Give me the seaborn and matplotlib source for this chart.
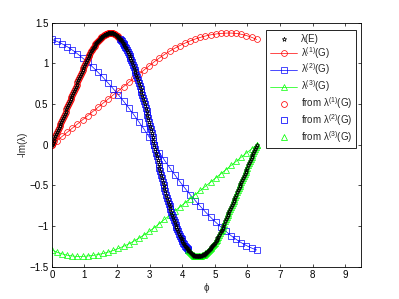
import numpy as np
import pandas as pd
import matplotlib
matplotlib.use('Agg')
import matplotlib.pyplot as plt
import seaborn as sns

# G-eigenvalues sampled on phi in [0, 2pi] (81 samples)
phi = np.linspace(0, 2 * np.pi, 81)

lam1 = [0.000, 0.026, 0.051, 0.077, 0.102, 0.128, 0.153, 0.179, 0.204, 0.230,
        0.255, 0.281, 0.306, 0.332, 0.357, 0.383, 0.408, 0.434, 0.460, 0.485,
        0.511, 0.536, 0.562, 0.587, 0.613, 0.638, 0.664, 0.689, 0.715, 0.740,
        0.766, 0.791, 0.817, 0.842, 0.868, 0.893, 0.919, 0.944, 0.970, 0.995,
        1.020, 1.043, 1.066, 1.088, 1.109, 1.130, 1.149, 1.168, 1.186, 1.203,
        1.219, 1.235, 1.249, 1.263, 1.276, 1.288, 1.300, 1.310, 1.320, 1.329,
        1.337, 1.344, 1.351, 1.356, 1.361, 1.365, 1.368, 1.371, 1.372, 1.373,
        1.373, 1.371, 1.368, 1.364, 1.358, 1.351, 1.342, 1.332, 1.321, 1.308,
        1.294]

lam2 = [1.294, 1.283, 1.270, 1.256, 1.240, 1.223, 1.205, 1.185, 1.164, 1.142,
        1.118, 1.092, 1.066, 1.039, 1.011, 0.982, 0.953, 0.923, 0.891, 0.859,
        0.827, 0.793, 0.758, 0.723, 0.687, 0.650, 0.613, 0.574, 0.535, 0.495,
        0.454, 0.412, 0.369, 0.326, 0.281, 0.236, 0.191, 0.144, 0.096, 0.048,
        0.000, -0.048, -0.096, -0.144, -0.191, -0.236, -0.281, -0.326, -0.369, -0.412,
        -0.454, -0.495, -0.535, -0.574, -0.613, -0.650, -0.687, -0.723, -0.758, -0.793,
        -0.827, -0.859, -0.891, -0.923, -0.953, -0.982, -1.011, -1.039, -1.066, -1.092,
        -1.118, -1.142, -1.164, -1.185, -1.205, -1.223, -1.240, -1.256, -1.270, -1.283,
        -1.294]

lam3 = [-1.294, -1.308, -1.321, -1.332, -1.342, -1.351, -1.358, -1.364, -1.368, -1.371,
        -1.373, -1.373, -1.372, -1.371, -1.368, -1.365, -1.361, -1.356, -1.351, -1.344,
        -1.337, -1.329, -1.320, -1.310, -1.300, -1.288, -1.276, -1.263, -1.249, -1.235,
        -1.219, -1.203, -1.186, -1.168, -1.149, -1.130, -1.109, -1.088, -1.066, -1.043,
        -1.020, -0.995, -0.970, -0.944, -0.919, -0.893, -0.868, -0.842, -0.817, -0.791,
        -0.766, -0.740, -0.715, -0.689, -0.664, -0.638, -0.613, -0.587, -0.562, -0.536,
        -0.511, -0.485, -0.460, -0.434, -0.408, -0.383, -0.357, -0.332, -0.306, -0.281,
        -0.255, -0.230, -0.204, -0.179, -0.153, -0.128, -0.102, -0.077, -0.051, -0.026,
        0.000]

lamG = [lam1, lam2, lam3]
colors = ['#ff0000', '#0000ff', '#00ff00']
markers = ['o', 's', '^']
sizes = [4.2, 3.8, 4.4]

# lambda(E): each G-branch folded onto phi/3 (+ 2pi k/3)
df_E = pd.concat([pd.DataFrame({'phi': (phi + 2 * np.pi * k) / 3, 'lam': lamG[k], 'branch': k})
                  for k in range(3)], ignore_index=True)

sns.set_style('ticks')
plt.rcParams['font.family'] = ['Liberation Sans', 'DejaVu Sans']
plt.rcParams['mathtext.fontset'] = 'custom'
plt.rcParams['mathtext.rm'] = 'Liberation Sans'
plt.rcParams['mathtext.it'] = 'Liberation Sans:italic'
plt.rcParams['axes.unicode_minus'] = True

fig = plt.figure(figsize=(3.99, 2.99), dpi=100)
ax = fig.add_axes([0.13, 0.108, 0.776, 0.816])

sns.lineplot(data=df_E, x='phi', y='lam', estimator=None, sort=False, linestyle='',
             marker='*', ms=3.4, mfc='none', mec='k', mew=0.5, color='k',
             label='λ(E)', zorder=4, ax=ax)

for k in range(3):
    sns.lineplot(x=phi, y=lamG[k], estimator=None, sort=False, color=colors[k], lw=0.5,
                 marker=markers[k], ms=sizes[k], mfc='none', mec=colors[k], mew=0.5,
                 markevery=2, label=r'λ$^{(%d)}$(G)' % (k + 1), ax=ax)

for k in range(3):
    sub = df_E[df_E['branch'] == k]
    sns.lineplot(data=sub, x='phi', y='lam', estimator=None, sort=False, linestyle='',
                 marker=markers[k], ms=sizes[k], mfc='none', mec=colors[k], mew=0.55,
                 color=colors[k], label=r'from λ$^{(%d)}$(G)' % (k + 1), ax=ax)

ax.set_xlim(0, 9.5)
ax.set_ylim(-1.5, 1.5)
ax.set_xticks(range(10))
ax.set_yticks([-1.5, -1, -0.5, 0, 0.5, 1, 1.5])
ax.set_yticklabels(['−1.5', '−1', '−0.5', '0', '0.5', '1', '1.5'])
ax.tick_params(direction='in', top=True, right=True, length=2.5, width=0.5,
               labelsize=7, pad=2.5, colors='k')
for s in ax.spines.values():
    s.set_linewidth(0.6)
    s.set_color('k')
ax.set_xlabel('ϕ', fontsize=7, labelpad=2)
ax.set_ylabel('-Im(λ)', fontsize=7, labelpad=1)

leg = ax.legend(loc='upper right', bbox_to_anchor=(0.9816, 0.970), borderaxespad=0,
                fontsize=7, handlelength=2.8, handletextpad=0.35, labelspacing=0.1,
                borderpad=0.4, numpoints=1, frameon=True, fancybox=False, framealpha=1)
leg.get_frame().set_edgecolor('k')
leg.get_frame().set_linewidth(0.6)

fig.savefig('out.png', dpi=100)
